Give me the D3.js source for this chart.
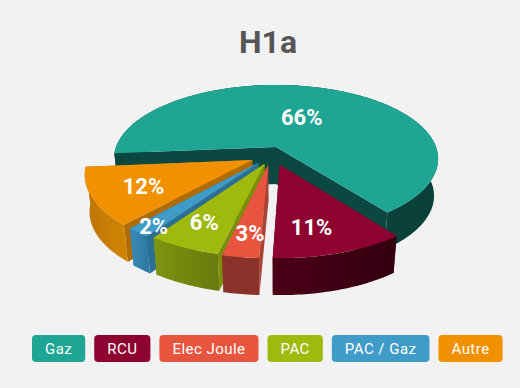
<!DOCTYPE html>
<html><head><meta charset="utf-8">
<script src="https://cdn.jsdelivr.net/npm/d3@7"></script>
<style>html,body{margin:0;padding:0;background:#f2f2f2}svg{display:block}</style>
</head><body><svg id="c" width="520" height="388"></svg>
<script>
const title = "H1a";
const categories = ["Gaz","RCU","Elec Joule","PAC","PAC / Gaz","Autre"];
const values = [66,11,3,6,2,12];
const colors = ["#1fa594","#8f0331","#e8553f","#a0b90d","#3f9bc8","#f29100"];
const wallColors = ["#0b4842","#4b0018","#8a3229","#7f9410","#3a8ab8","#d08304"];
const wallColorsEnd = ["#0a403a","#33000f","#8a3229","#687a0c","#2f7aa4","#bd7605"];
const edgeColors = ["#0b4842","#4b0018","#a84434","#7c8f0b","#2c6f94","#b06c06"];

// scene settings
const W=520,H=388,cx=276,cy=147,R=160,D=1000,K=0.45,drop=37,shrink=0.975;
const shiftX=[0,3.5,-7.5,-11,-17,-23], shiftY=[0,-38,-38,-36,-34,-28];
const labelFrac=[0.44,0.73,0.76,0.74,0.9,0.7];
const labelNudgeX=[-1,-10,2,-3,2,1];
const labelNudgeY=[-3,1,1,-1,1,1];
const drawOrder=[0,5,4,3,2,1];

const svg=d3.select("#c");
svg.append("rect").attr("width",W).attr("height",H).attr("fill","#f2f2f2");
svg.append("text").attr("x",268).attr("y",53).attr("text-anchor","middle")
  .attr("font-family","Roboto").attr("font-weight",700).attr("font-size",32).attr("fill","#555").text(title);

const pie=d3.pie().sort(null).startAngle(-95*Math.PI/180).endAngle(265*Math.PI/180);
const arcs=pie(values);

function project(i,a,r,low){
  const X=r*Math.sin(a)+shiftX[i], Y=r*Math.cos(a)+shiftY[i];
  const s=D/(D+Y);
  const xs=low?shrink:1;
  return [cx+X*s*xs, cy-Y*K*s+(low?drop:0)];
}
const line=d3.line();
const defs=svg.append("defs");
const g=svg.append("g");
drawOrder.forEach(i=>{
  const d=arcs[i];
  const n=Math.max(6,Math.ceil((d.endAngle-d.startAngle)*60));
  const as=d3.range(n+1).map(j=>d.startAngle+(d.endAngle-d.startAngle)*j/n);
  const topArc=as.map(a=>project(i,a,R,false));
  const lowArc=as.map(a=>project(i,a,R,true));
  const tipT=project(i,0,0,false), tipL=project(i,0,0,true);
  const xs=topArc.map(p=>p[0]);
  const id="w"+i;
  const grad=defs.append("linearGradient").attr("id",id).attr("gradientUnits","userSpaceOnUse")
    .attr("x1",d3.min(xs)).attr("x2",d3.max(xs)).attr("y1",0).attr("y2",0);
  grad.append("stop").attr("offset",0).attr("stop-color",i==5?wallColorsEnd[i]:wallColors[i]);
  grad.append("stop").attr("offset",1).attr("stop-color",i==5?wallColors[i]:wallColorsEnd[i]);
  const s=g.append("g");
  [[topArc[0],lowArc[0]],[topArc[n],lowArc[n]]].forEach(e=>{
    s.append("path").attr("d",line([tipT,e[0],e[1],tipL])+"Z").attr("fill",edgeColors[i]);
  });
  s.append("path").attr("d",line(topArc.concat(lowArc.slice().reverse()))+"Z").attr("fill","url(#"+id+")");
  s.append("path").attr("d",line([tipT].concat(topArc))+"Z").attr("fill",colors[i]);
});
arcs.forEach((d,i)=>{
  const p=project(i,(d.startAngle+d.endAngle)/2,R*labelFrac[i],false);
  svg.append("text").attr("x",p[0]+labelNudgeX[i]).attr("y",p[1]+labelNudgeY[i]).attr("dy","0.36em").attr("text-anchor","middle")
    .attr("font-family","Roboto").attr("font-weight",700).attr("font-size",22).attr("fill","#fff").text(d.data+"%");
});
let lx=32;
categories.forEach((c,i)=>{
  const it=svg.append("g");
  const r=it.append("rect").attr("y",335).attr("height",27).attr("rx",4).attr("fill",colors[i]);
  const t=it.append("text").attr("y",353.5).attr("text-anchor","middle").attr("font-family","Roboto")
    .attr("font-size",15).attr("letter-spacing",0.47).attr("fill","#fff").text(c);
  const w=t.node().getComputedTextLength()+26;
  r.attr("x",lx).attr("width",w);
  t.attr("x",lx+w/2);
  lx+=w+9;
});
</script></body></html>
